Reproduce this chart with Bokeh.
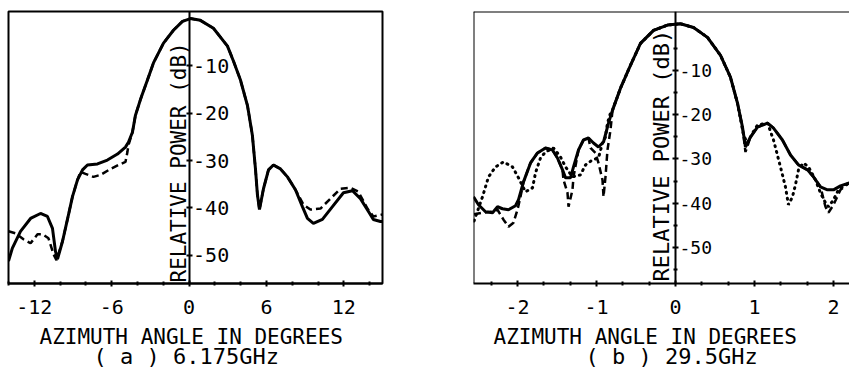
import math
from bokeh.plotting import figure
from bokeh.models import LinearAxis, FixedTicker, Label, Span, Range1d, Title
from bokeh.layouts import row
from bokeh.embed import file_html
from bokeh.resources import INLINE

FONT = "DejaVu Sans Mono"

# ---------------- data : (a) 6.175 GHz ----------------
a_solid_x = [-14.0, -13.70, -13.07, -12.29, -11.52, -10.98, -10.59, -10.36, -10.20,
             -9.81, -9.43, -9.04, -8.65, -8.26, -7.88, -7.10, -6.33, -5.55, -4.93,
             -4.70, -4.39, -4.16, -3.77, -3.22, -2.76, -1.98, -1.21, -0.51, 0.11,
             0.88, 1.89, 2.98, 3.44, 3.98, 4.53, 4.91, 5.15, 5.30, 5.46,
             5.77, 6.16, 6.54, 7.09, 7.63, 8.25, 8.79, 9.18, 9.64, 10.34,
             11.12, 11.97, 12.67, 13.29, 13.91, 14.29, 14.84, 15.0]
a_solid_y = [-51.26, -48.53, -44.97, -42.25, -41.20, -41.83, -44.35, -49.16, -50.84,
             -47.07, -42.46, -37.64, -34.08, -31.99, -30.94, -30.73, -29.90, -28.64, -27.17,
             -26.13, -24.03, -20.47, -17.12, -12.93, -9.37, -5.18, -2.46, -0.58, 0.0,
             -0.37, -2.04, -5.81, -8.95, -12.93, -18.38, -24.66, -31.78, -37.2, -40.37,
             -35.97, -31.99, -30.94, -31.78, -33.46, -36.18, -39.74, -42.25, -43.30, -42.46,
             -39.74, -36.81, -36.39, -38.06, -40.79, -42.46, -42.88, -42.9]
a_dash_x = [-14.0, -13.46, -12.84, -12.29, -11.75, -11.36, -10.90, -10.51, -10.28,
            -9.81, -9.43, -9.04, -8.65, -8.42, -8.03, -7.41, -6.87, -6.09, -5.47,
            -4.93, -4.78, -4.70, -4.39, -4.16, -3.77, -3.22, -2.76, -1.98, -1.21,
            -0.51, 0.11, 0.88, 1.89, 2.98, 3.44, 3.98, 4.53, 4.91, 5.15,
            5.30, 5.46, 5.77, 6.16, 6.54, 7.09, 7.63, 8.25, 8.87, 9.41,
            10.19, 10.96, 11.74, 12.51, 13.13, 13.83, 14.29, 15.0]
a_dash_y = [-44.97, -45.39, -46.65, -47.49, -45.60, -45.60, -46.44, -49.79, -51.05,
            -47.07, -42.46, -37.64, -34.08, -32.4, -32.83, -33.46, -33.04, -31.78, -30.94,
            -30.31, -28.22, -26.75, -24.03, -20.47, -17.12, -12.93, -9.37, -5.18, -2.46,
            -0.58, 0.0, -0.37, -2.04, -5.81, -8.95, -12.93, -18.38, -24.66, -31.78,
            -37.2, -40.37, -35.97, -31.99, -30.94, -31.78, -33.46, -36.18, -39.32, -40.37,
            -40.16, -38.06, -35.97, -35.76, -36.60, -40.16, -41.83, -41.41]

# ---------------- data : (b) 29.5 GHz ----------------
b_solid_x = [-2.557, -2.494, -2.405, -2.316, -2.253, -2.190, -2.114, -2.025, -1.987, -1.924,
             -1.835, -1.747, -1.646, -1.557, -1.494, -1.430, -1.392, -1.329, -1.291, -1.228,
             -1.165, -1.101, -1.038, -0.975, -0.911, -0.848, -0.797, -0.696, -0.570, -0.443,
             -0.278, -0.101, 0.063, 0.228, 0.405, 0.570, 0.696, 0.785, 0.848, 0.886,
             0.949, 1.038, 1.165, 1.241, 1.354, 1.456, 1.557, 1.671, 1.747, 1.835,
             1.924, 2.0, 2.089, 2.2]
b_solid_y = [-38.54, -40.34, -41.91, -42.13, -40.79, -41.24, -41.46, -40.56, -39.21, -35.17,
             -30.90, -28.65, -27.53, -27.98, -29.78, -32.47, -34.27, -34.27, -31.80, -27.98,
             -25.73, -25.28, -26.40, -27.30, -26.18, -21.91, -18.99, -14.04, -8.88, -3.93,
             -1.01, 0.2, 0.5, -0.34, -2.58, -6.63, -11.57, -17.42, -22.81, -27.30,
             -25.06, -22.81, -21.91, -23.03, -25.73, -29.10, -31.35, -32.47, -34.04, -36.29,
             -36.97, -36.97, -36.07, -35.39]
b_dot_x = [-2.55, -2.443, -2.367, -2.278, -2.177, -2.063, -1.987, -1.899, -1.810, -1.772,
           -1.709, -1.646, -1.544, -1.456, -1.392, -1.304, -1.203, -1.139, -1.051, -0.975,
           -0.924, -0.886, -0.861, -0.823, -0.797, -0.696, -0.570, -0.443, -0.278, -0.101,
           0.063, 0.228, 0.405, 0.570, 0.696, 0.785, 0.861, 0.911, 0.975, 1.038,
           1.165, 1.241, 1.329, 1.392, 1.430, 1.481, 1.519, 1.557, 1.620, 1.684,
           1.772, 1.835, 1.899, 1.937, 2.0, 2.063, 2.152, 2.2]
b_dot_y = [-44.0, -38.54, -34.04, -31.80, -30.67, -31.80, -34.27, -37.42, -36.52, -33.15,
           -29.78, -28.43, -27.53, -29.55, -31.80, -34.04, -33.60, -31.35, -30.22, -29.78,
           -26.40, -25.06, -21.91, -19.66, -18.99, -14.04, -8.88, -3.93, -1.01, 0.2,
           0.5, -0.34, -2.58, -6.63, -11.57, -17.42, -24.61, -26.40, -24.16, -22.36,
           -21.91, -25.73, -31.80, -36.29, -40.34, -38.54, -35.84, -32.47, -30.90, -31.80,
           -34.72, -37.64, -39.89, -40.79, -39.21, -36.97, -35.84, -35.39]
b_dash_x = [-2.55, -2.443, -2.34, -2.253, -2.177, -2.114, -2.051, -2.0, -1.962, -1.924,
            -1.835, -1.747, -1.646, -1.557, -1.494, -1.430, -1.418, -1.367, -1.354, -1.304,
            -1.291, -1.228, -1.165, -1.101, -1.076, -1.013, -0.975, -0.924, -0.911, -0.886,
            -0.861, -0.823, -0.797, -0.696, -0.570, -0.443, -0.278, -0.101, 0.063, 0.228,
            0.405, 0.570, 0.696, 0.785, 0.848, 0.886, 0.949, 1.038, 1.165, 1.241,
            1.354, 1.456, 1.557, 1.671, 1.747, 1.835, 1.899, 1.937, 2.0, 2.089,
            2.2]
b_dash_y = [-42.5, -42.13, -41.9, -41.46, -43.71, -45.28, -44.38, -41.46, -38.54, -35.17,
            -30.90, -28.65, -27.53, -27.98, -29.78, -32.47, -34.72, -37.64, -40.79, -36.97,
            -34.04, -27.98, -25.73, -25.28, -27.53, -28.65, -30.90, -34.72, -38.54, -34.04,
            -27.98, -23.48, -18.99, -14.04, -8.88, -3.93, -1.01, 0.2, 0.5, -0.34,
            -2.58, -6.63, -11.57, -17.42, -22.81, -28.43, -25.06, -22.81, -21.91, -23.03,
            -25.73, -29.10, -31.35, -32.47, -34.04, -36.29, -40.79, -42.13, -40.34, -36.97,
            -35.39]

# ---------------- ticks / labels ----------------
a_xticks = [-12, -6, 0, 6, 12]
a_xminor = [-14, -10, -8, -4, -2, 2, 4, 8, 10, 14]
b_xticks = [-2, -1, 0, 1, 2]
b_xminor = [-7/3, -5/3, -4/3, -2/3, -1/3, 1/3, 2/3, 4/3, 5/3]
yticks = [-50, -40, -30, -20, -10]
b_yminor = [-55, -45, -35, -25, -15, -5]
ytick_labels = {-50: "-50", -40: "-40", -30: "-30", -20: "-20", -10: "-10"}
xtick_labels_a = {-12: "-12", -6: "-6", 0: "0", 6: "6", 12: "12"}
xtick_labels_b = {-2: "-2", -1: "-1", 0: "0", 1: "1", 2: "2"}
x_title = "AZIMUTH ANGLE IN DEGREES"
y_title = "RELATIVE POWER (dB)"
a_caption = "( a ) 6.175GHz"
b_caption = "( b ) 29.5GHz"


def base_fig(width, height, xr, yr, mb):
    p = figure(width=width, height=height, x_range=Range1d(*xr), y_range=Range1d(*yr),
               output_backend="svg", toolbar_location=None, y_axis_location=None,
               min_border_left=mb[3], min_border_right=mb[1], min_border_top=mb[0],
               min_border_bottom=mb[2])
    p.grid.visible = False
    p.background_fill_color = "white"
    p.border_fill_color = "white"
    return p


def style_xaxis(ax, ticks, minor, overrides):
    ax.ticker = FixedTicker(ticks=ticks, minor_ticks=minor)
    ax.major_label_overrides = overrides
    ax.axis_line_width = 2
    ax.axis_line_color = "black"
    ax.major_tick_in = 3
    ax.major_tick_out = 3
    ax.major_tick_line_width = 2
    ax.minor_tick_in = 2
    ax.minor_tick_out = 2
    ax.minor_tick_line_width = 2
    ax.major_label_text_font = FONT
    ax.major_label_text_font_size = "20px"
    ax.major_label_text_color = "black"
    ax.major_label_standoff = 13


def add_yaxis(p, minor, size):
    ax = LinearAxis(fixed_location=0)
    ax.ticker = FixedTicker(ticks=yticks, minor_ticks=minor)
    ax.major_label_overrides = ytick_labels
    ax.axis_line_width = 2
    ax.major_tick_in = 3
    ax.major_tick_out = 3
    ax.major_tick_line_width = 2
    ax.minor_tick_in = 2
    ax.minor_tick_out = 2
    ax.minor_tick_line_width = 2
    ax.major_label_text_font = FONT
    ax.major_label_text_font_size = size
    ax.major_label_text_color = "black"
    ax.major_label_standoff = 1
    p.add_layout(ax, "right")


def add_titles(p, caption, off1, off2):
    t1 = Title(text=x_title, align="left", offset=off1, standoff=12,
               text_font=FONT, text_font_size="21px", text_font_style="normal",
               text_color="black")
    t2 = Title(text=caption, align="left", offset=off2, standoff=-28,
               text_font=FONT, text_font_size="22px", text_font_style="normal",
               text_color="black")
    p.add_layout(t1, "below")
    p.add_layout(t2, "below")


# ---------------- panel (a) ----------------
pa = base_fig(473, 381, (-14.0, 15.0), (-56.0, 1.5), (8, 91, 98, 8))
pa.outline_line_color = "black"
pa.outline_line_width = 2
style_xaxis(pa.xaxis[0], a_xticks, a_xminor, xtick_labels_a)
add_yaxis(pa, [], "20px")
pa.line(a_dash_x, a_dash_y, line_color="black", line_width=2.5, line_dash="7 4")
pa.line(a_solid_x, a_solid_y, line_color="black", line_width=3)
pa.add_layout(Label(x=0, y=-56.0, text=y_title, angle=math.pi / 2, text_align="left",
                    text_baseline="alphabetic", x_offset=-10, y_offset=1,
                    text_font=FONT, text_font_size="21px", text_color="black"))
add_titles(pa, a_caption, 31, 85)

# ---------------- panel (b) ----------------
pb = base_fig(376, 381, (-2.557, 2.203), (-58.1, 3.26), (11, 0, 97, 0))
pb.outline_line_color = None
style_xaxis(pb.xaxis[0], b_xticks, b_xminor, xtick_labels_b)
add_yaxis(pb, b_yminor, "18px")
pb.add_layout(Span(location=3.26, dimension="width", line_color="black", line_width=2))
pb.add_layout(Span(location=-2.557, dimension="height", line_color="black", line_width=2))
pb.line(b_dot_x, b_dot_y, line_color="black", line_width=3, line_dash="1 5", line_cap="round")
pb.line(b_dash_x, b_dash_y, line_color="black", line_width=2.5, line_dash="7 4")
pb.line(b_solid_x, b_solid_y, line_color="black", line_width=3)
pb.add_layout(Label(x=0, y=-58.1, text=y_title, angle=math.pi / 2, text_align="left",
                    text_baseline="alphabetic", x_offset=-14, y_offset=2,
                    text_font=FONT, text_font_size="22px", text_color="black"))
add_titles(pb, b_caption, 20, 112)

layout = row(pa, pb)
open("out.html", "w").write(file_html(layout, INLINE))
